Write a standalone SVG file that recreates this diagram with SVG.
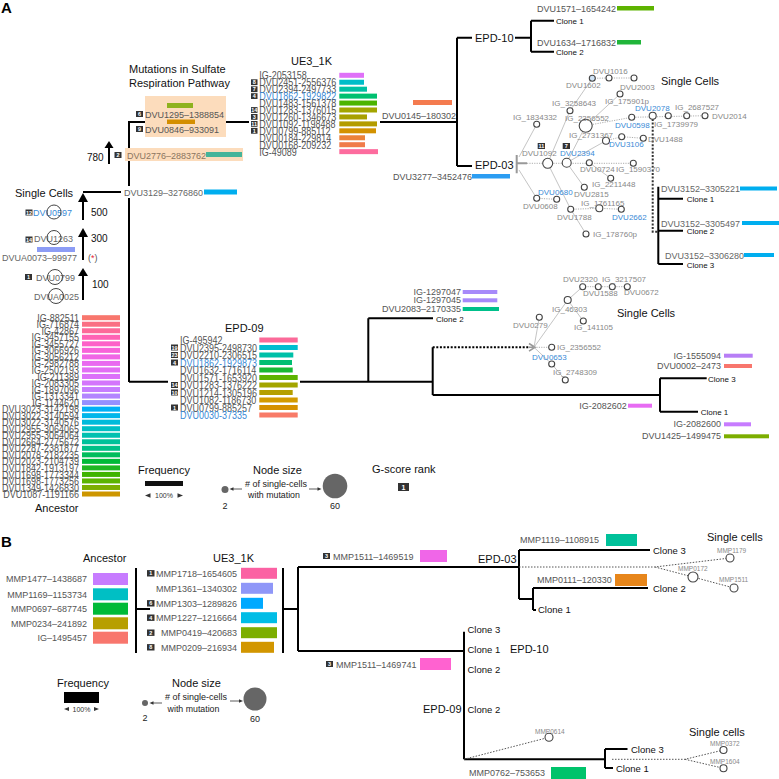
<svg xmlns="http://www.w3.org/2000/svg" width="779" height="779" viewBox="0 0 779 779">
<style>
text{font-family:"Liberation Sans",Arial,sans-serif}
.g{fill:#555;font-size:9px}
.gl{fill:#666;font-size:9px}
.n{fill:#888;font-size:8px}
.nb{fill:#3a8ad6;font-size:8px}
.b{fill:#3a8ad6}
.rk{fill:#333}
.rt{fill:#fff;font-size:5.5px;font-weight:bold;text-anchor:middle}
.t11{font-size:11px;fill:#111}
.t12{font-size:11px;fill:#111}
.c8{font-size:8px;fill:#111}
.c9{font-size:9.5px;fill:#111}
.ln{stroke:#000;stroke-width:2;fill:none}
.dt{stroke:#000;stroke-width:2;fill:none;stroke-dasharray:2 1.6}
.e{stroke:#aaa;stroke-width:0.7;fill:none}
.ed{stroke:#999;stroke-width:0.8;fill:none;stroke-dasharray:1.2 1.2}
.eb{stroke:#555;stroke-width:1;fill:none;stroke-dasharray:1.5 1.5}
.nd{fill:#fff;stroke:#444;stroke-width:1.1}
.sc{fill:none;stroke:#444;stroke-width:1}
.end{text-anchor:end}
.mid{text-anchor:middle}
.mm{fill:#888;font-size:6.5px}
.pk{fill:#fcdcbc}
</style>

<!-- ================= CONNECTORS ================= -->
<g id="connectors">
  <path class="ln" d="M83,192 H129 M129,121 V382 M129,122 H145 M226,122 H249 M380,122 H457 M457,37.7 V166 M457,37.7 H472 M457,166 H472"/>
  <path class="ln" d="M515,37.7 H531 M531,20.7 V51.7 M531,20.7 H554 M531,51.7 H554"/>
  <path class="ln" d="M83,300 V275 M83,260 V236 M83,220 V201 M109,164 V147"/>
  <polygon points="78,276 83,268 88,276" fill="#000"/>
  <polygon points="78,237 83,228 88,237" fill="#000"/>
  <polygon points="78,202 83,193 88,202" fill="#000"/>
  <polygon points="104.5,148 109,141 113.5,148" fill="#000"/>
  <path d="M652.7,119 V231.7 H658" stroke="#333" stroke-width="2" fill="none" stroke-dasharray="2 1.6"/>
  <path class="ln" d="M658.3,186.7 V264 M658.3,198.7 H683 M658.3,230.7 H683 M658.3,264 H683"/>
  <path class="ln" d="M129,381.7 H168 M300,381.7 H432.7 M368.3,318.3 V381.7 M368.3,318.3 H433 M432.7,347.3 V395 M432.7,395 H660 M660,378.3 V411.7 M660,378.3 H706.7 M660,411.7 H698"/>
  <path class="dt" d="M432.7,347.3 H530"/>
  <path d="M516.7,155 V173.3 M516.7,163.3 H527" stroke="#999" stroke-width="2" fill="none"/>
  <path class="e" d="M519,157 L536.7,124.3 M547.7,163.3 L570,110.7 L592.3,78.3 M566.7,162.7 L585.7,125.7 L620,94 M566.7,162.7 L606,140.7 M566.7,162.7 L584.3,187.3 M589.3,162.7 L610.7,178.3 M519,170 L536.7,198.3 M547.7,163.3 L570.7,209.3 L586,234"/>
  <path class="ed" d="M527,163.3 H633.3 M585.7,125.7 L631.7,117.3 L705,115.7 M606,140.7 L621.7,136.7 L643.3,138.3 M536.7,198.3 L556.7,199.3 M570.7,209.3 L599.3,208.3 L621.3,209.3 M592.3,78.3 L609,78 L634,78"/>
  <path d="M529,343.5 L535,347.3 L529,351.1 M529,347.3 H535" stroke="#999" stroke-width="1.6" fill="none"/>
  <path class="e" d="M534,347.3 L539.3,317.3 M534,347.3 L567.7,300 L582.7,286.7 M567.7,300 L583.3,321 M534,347.3 L551.7,364 L565.3,380"/>
  <path class="ed" d="M534,347.3 H551.7 M582.7,286.7 H627.3"/>
  <path class="ln" d="M136,568 V653 M136,609 H150 M283,568 V653 M283,609 H298 M298,567 V651 M298,567 H518 M298,651 H464"/>
  <path class="ln" d="M519,550 V599 M519,550 H650 M519,599 H533 M533,588 V610 M533,588 H648 M533,610 H536"/>
  <path class="ln" d="M464,631.7 V759.3 M464,759.3 H605 M605,749 V768 M605,749 H627.5 M605,768 H613"/>
  <path class="eb" d="M519,567 H655 L730,558 M655,567 L693,577 L734,588"/>
  <path class="eb" d="M464,759.3 L549,737.3 M612,759.3 H685 L723.5,750 M685,759.3 L723.5,768.3"/>
</g>

<!-- ================= PANEL A ================= -->
<text x="1" y="13" font-size="15" font-weight="bold" fill="#000">A</text>

<g id="sulfate-box">
  <text class="t11" x="129" y="73">Mutations in Sulfate</text>
  <text class="t11" x="129" y="86.5">Respiration Pathway</text>
  <rect class="pk" x="145" y="96" width="81" height="41"/>
  <rect x="167" y="103" width="26" height="5" fill="#8fb21e"/>
  <rect class="rk" x="136" y="111" width="7" height="6"/><text class="rt" x="139.5" y="116">6</text>
  <text class="g" x="145" y="118">DVU1295–1388854</text>
  <rect x="167" y="119.5" width="28" height="4.5" fill="#d48e00"/>
  <rect class="rk" x="136" y="126" width="7" height="6"/><text class="rt" x="139.5" y="131">9</text>
  <text class="g" x="145" y="133">DVU0846–933091</text>
</g>

<g id="dvu2776">
  <rect class="pk" x="125" y="148" width="118" height="13"/>
  <rect class="rk" x="114.5" y="152" width="7" height="6"/><text class="rt" x="118" y="157">2</text>
  <text x="127" y="158.5" font-size="9" fill="#8b7560">DVU2776–2883762</text>
  <rect x="206" y="152" width="36" height="5" fill="#45b49a"/>
  <text x="87" y="161" font-size="10" fill="#111">780</text>
</g>

<g id="dvu3129">
  <rect x="121" y="186" width="83" height="12" fill="#fff"/>
  <text class="gl" x="124" y="196">DVU3129–3276860</text>
  <rect x="204" y="189.5" width="33" height="5" fill="#00aeef"/>
</g>

<g id="single-cells-left">
  <text class="t11" x="15" y="197">Single Cells</text>
  <text x="91" y="216" font-size="10" fill="#111">500</text>
  <text x="91" y="242" font-size="10" fill="#111">300</text>
  <text x="92" y="288" font-size="10" fill="#111">100</text>
  <rect class="rk" x="25.5" y="209.5" width="7" height="6"/><text class="rt" x="29" y="214.5">12</text>
  <text class="b" x="33" y="215.5" font-size="9">DVU0597</text>
  <circle class="sc" cx="54" cy="212" r="7"/>
  <rect class="rk" x="25.5" y="236.5" width="7" height="6"/><text class="rt" x="29" y="241.5">14</text>
  <text class="gl" x="34" y="242">DVU1263</text>
  <circle class="sc" cx="54" cy="237.5" r="7"/>
  <rect x="37" y="247" width="38" height="5" fill="#8c9cf5"/>
  <text class="gl" x="2" y="260.5">DVUA0073–99977</text>
  <text x="88" y="261" font-size="9" fill="#555">(<tspan fill="#e8233a">*</tspan>)</text>
  <rect class="rk" x="25" y="274" width="7" height="6"/><text class="rt" x="28.5" y="279">1</text>
  <text class="gl" x="36" y="280.5">DVU0799</text>
  <circle class="sc" cx="55" cy="277" r="7.5"/>
  <text class="gl" x="34" y="299.5">DVUA0025</text>
  <circle class="sc" cx="56" cy="296" r="7.5"/>
</g>

<g id="ancestor-A">
  <g class="g end" transform="scale(1,1.15)">
    <text x="79" y="279.83">IG-882511</text>
    <text x="79" y="285.51">IG-716874</text>
    <text x="79" y="291.19">IG-42867</text>
    <text x="79" y="296.86">IG-3457155</text>
    <text x="79" y="302.54">IG-3455727</text>
    <text x="79" y="308.22">IG-3066926</text>
    <text x="79" y="313.9">IG-3056212</text>
    <text x="79" y="319.57">IG-2982788</text>
    <text x="79" y="325.25">IG-2502193</text>
    <text x="79" y="330.93">IG-211389</text>
    <text x="79" y="336.61">IG-2083305</text>
    <text x="79" y="342.29">IG-1897096</text>
    <text x="79" y="347.96">IG-1313341</text>
    <text x="79" y="353.64">IG-1144620</text>
    <text x="79" y="359.32">DVU3023-3142198</text>
    <text x="79" y="365">DVU3022-3140594</text>
    <text x="79" y="370.68">DVU3022-3140576</text>
    <text x="79" y="376.35">DVU2955-3064065</text>
    <text x="79" y="382.03">DVU2955-3064064</text>
    <text x="79" y="387.71">DVU2664-2775672</text>
    <text x="79" y="393.39">DVU2287-2381877</text>
    <text x="79" y="399.07">DVU2078-2182235</text>
    <text x="79" y="404.74">DVU2023-2104739</text>
    <text x="79" y="410.42">DVU1842-1913197</text>
    <text x="79" y="416.1">DVU1698-1773344</text>
    <text x="79" y="421.78">DVU1698-1773256</text>
    <text x="79" y="427.46">DVU1349-1426830</text>
    <text x="79" y="433.13">DVU1087-1191166</text>
  </g>
  <g>
    <rect x="82" y="315.2" width="38" height="5" fill="#f8766d"/>
    <rect x="82" y="321.73" width="38" height="5" fill="#fa6f83"/>
    <rect x="82" y="328.26" width="38" height="5" fill="#fd6a99"/>
    <rect x="82" y="334.79" width="38" height="5" fill="#ff63b4"/>
    <rect x="82" y="341.32" width="38" height="5" fill="#fd61c8"/>
    <rect x="82" y="347.85" width="38" height="5" fill="#f863d9"/>
    <rect x="82" y="354.38" width="38" height="5" fill="#f066e6"/>
    <rect x="82" y="360.91" width="38" height="5" fill="#e96af0"/>
    <rect x="82" y="367.44" width="38" height="5" fill="#e26ef5"/>
    <rect x="82" y="373.97" width="38" height="5" fill="#dc71fa"/>
    <rect x="82" y="380.5" width="38" height="5" fill="#d475fc"/>
    <rect x="82" y="387.03" width="38" height="5" fill="#c77cff"/>
    <rect x="82" y="393.56" width="38" height="5" fill="#b384ff"/>
    <rect x="82" y="400.09" width="38" height="5" fill="#9590ff"/>
    <rect x="82" y="406.62" width="38" height="5" fill="#00b0f6"/>
    <rect x="82" y="413.15" width="38" height="5" fill="#00b6ea"/>
    <rect x="82" y="419.68" width="38" height="5" fill="#00bbdb"/>
    <rect x="82" y="426.21" width="38" height="5" fill="#00bfc4"/>
    <rect x="82" y="432.74" width="38" height="5" fill="#00c0b0"/>
    <rect x="82" y="439.27" width="38" height="5" fill="#00c19a"/>
    <rect x="82" y="445.8" width="38" height="5" fill="#00c087"/>
    <rect x="82" y="452.33" width="38" height="5" fill="#00bd5c"/>
    <rect x="82" y="458.86" width="38" height="5" fill="#00ba38"/>
    <rect x="82" y="465.39" width="38" height="5" fill="#1fb722"/>
    <rect x="82" y="471.92" width="38" height="5" fill="#3fb300"/>
    <rect x="82" y="478.45" width="38" height="5" fill="#5bb300"/>
    <rect x="82" y="484.98" width="38" height="5" fill="#7cae00"/>
    <rect x="82" y="491.51" width="38" height="5" fill="#cd9600"/>
  </g>
  <text class="t11" x="35" y="512">Ancestor</text>
</g>

<g id="ue3-1k-A">
  <text class="t11" x="291" y="65">UE3_1K</text>
  <g class="g" transform="scale(1,1.15)">
    <text x="259.3" y="69.04">IG-2053158</text>
    <text x="259.3" y="75.08">DVU2451-2556376</text>
    <text x="259.3" y="81.11">DVU2394-2497733</text>
    <text x="259.3" y="87.15" class="b">DVU1862-1929822</text>
    <text x="259.3" y="93.18">DVU1483-1561378</text>
    <text x="259.3" y="99.22">DVU1283-1376015</text>
    <text x="259.3" y="105.25">DVU1260-1346673</text>
    <text x="259.3" y="111.29">DVU1092-1198488</text>
    <text x="259.3" y="117.32">DVU0799-885112</text>
    <text x="259.3" y="123.36">DVU0184-229814</text>
    <text x="259.3" y="129.39">DVU0168-209232</text>
    <text x="259.3" y="135.43">IG-49089</text>
  </g>
  <rect class="rk" x="251" y="79.3" width="6.5" height="5.8"/><text class="rt" x="254.25" y="84.3">8</text>
  <rect class="rk" x="251" y="86.3" width="6.5" height="5.8"/><text class="rt" x="254.25" y="91.3">7</text>
  <rect class="rk" x="251" y="93.2" width="6.5" height="5.8"/><text class="rt" x="254.25" y="98.2">4</text>
  <rect class="rk" x="251" y="107.1" width="6.5" height="5.8"/><text class="rt" x="254.25" y="112.1">14</text>
  <rect class="rk" x="251" y="114" width="6.5" height="5.8"/><text class="rt" x="254.25" y="119">3</text>
  <rect class="rk" x="251" y="121" width="6.5" height="5.8"/><text class="rt" x="254.25" y="126">11</text>
  <rect class="rk" x="251" y="127.9" width="6.5" height="5.8"/><text class="rt" x="254.25" y="132.9">1</text>
  <rect x="339.3" y="72.8" width="24.7" height="5" fill="#df70f8"/>
  <rect x="339.3" y="79.74" width="24.7" height="5" fill="#00bdc9"/>
  <rect x="339.3" y="86.68" width="27.7" height="5" fill="#00c1a3"/>
  <rect x="339.3" y="93.62" width="37.7" height="5" fill="#00c070"/>
  <rect x="339.3" y="100.56" width="37.7" height="5" fill="#4cb400"/>
  <rect x="339.3" y="107.5" width="37.7" height="5" fill="#a3a500"/>
  <rect x="339.3" y="114.44" width="27.7" height="5" fill="#a8a000"/>
  <rect x="339.3" y="121.38" width="37.7" height="5" fill="#b49c00"/>
  <rect x="339.3" y="128.32" width="36.7" height="5" fill="#d39200"/>
  <rect x="339.3" y="135.26" width="25.7" height="5" fill="#ec8239"/>
  <rect x="339.3" y="142.2" width="25.7" height="5" fill="#f07c4a"/>
  <rect x="339.3" y="149.14" width="38.7" height="5" fill="#fd6c9e"/>
</g>

<g id="dvu0145">
  <rect x="413" y="100" width="39" height="5" fill="#f47b4f"/>
  <text class="g" x="382" y="119">DVU0145–180302</text>
</g>

<g id="epd10-A">
  <text class="t12" x="475" y="42">EPD-10</text>
  <text class="g" x="537" y="11.5">DVU1571–1654242</text>
  <rect x="617" y="6" width="37" height="4.5" fill="#5db300"/>
  <text class="c8" x="556" y="23.7">Clone 1</text>
  <text class="g" x="537" y="45.5">DVU1634–1716832</text>
  <rect x="617" y="40" width="24" height="4.5" fill="#20b53a"/>
  <text class="c8" x="556" y="54.7">Clone 2</text>
</g>

<g id="epd03-A">
  <text class="t12" x="475" y="169">EPD-03</text>
  <text class="g" x="393" y="179.5">DVU3277–3452476</text>
  <rect x="472" y="174" width="38" height="4.5" fill="#2b9df2"/>
  <text class="t11" x="661" y="85">Single Cells</text>
</g>

<g id="epd03-network">
  <g id="n-dvu1016"><circle class="nd" cx="609" cy="78" r="3"/><text class="n" x="593" y="73.5">DVU1016</text></g>
  <g id="n-dvu1602"><circle cx="592.3" cy="78.3" r="3" fill="#cfe3f5" stroke="#444" stroke-width="1.1"/><text class="n" x="566" y="88">DVU1602</text></g>
  <g id="n-dvu2003"><circle class="nd" cx="634" cy="78" r="3"/><text class="n" x="620" y="89.5">DVU2003</text></g>
  <g id="n-ig3258643"><circle class="nd" cx="570" cy="110.7" r="3"/><text class="n" x="552" y="106">IG_3258643</text></g>
  <g id="n-ig175901p"><circle class="nd" cx="620" cy="94" r="3"/><text class="n" x="605" y="103.5">IG_175901p</text></g>
  <g id="n-ig1834332"><circle class="nd" cx="536.7" cy="124.3" r="3"/><text class="n" x="513" y="120">IG_1834332</text></g>
  <g id="n-ig2356552"><circle class="nd" cx="585.7" cy="125.7" r="6.5"/><text class="n" x="565" y="121">IG_2356552</text></g>
  <g id="n-dvu0598"><circle class="nd" cx="631.7" cy="117.3" r="3"/><text class="nb" x="615" y="127.5">DVU0598</text></g>
  <g id="n-dvu2078"><circle class="nd" cx="652.7" cy="115.7" r="3.5"/><text class="nb" x="635" y="110.5">DVU2078</text></g>
  <g id="n-ig1739979"><circle class="nd" cx="668.3" cy="115.7" r="3"/><text class="n" x="654" y="127">IG_1739979</text></g>
  <g id="n-ig2687527"><circle class="nd" cx="686.7" cy="115.7" r="3"/><text class="n" x="675" y="110">IG_2687527</text></g>
  <g id="n-dvu2014"><circle class="nd" cx="705" cy="115.7" r="3"/><text class="n" x="712" y="119">DVU2014</text></g>
  <g id="n-ig2731367"><circle class="nd" cx="606" cy="140.7" r="3.5"/><text class="n" x="569" y="138">IG_2731367</text></g>
  <g id="n-dvu3106"><circle class="nd" cx="621.7" cy="136.7" r="3"/><text class="nb" x="609" y="147">DVU3106</text></g>
  <g id="n-dvu1488"><circle class="nd" cx="643.3" cy="138.3" r="3"/><text class="n" x="648" y="142">DVU1488</text></g>
  <g id="n-dvu1092"><circle class="nd" cx="547.7" cy="163.3" r="5"/><text class="n" x="522" y="156">DVU1092</text>
    <rect class="rk" x="537.7" y="143" width="7.3" height="6"/><text class="rt" x="541.35" y="148">11</text></g>
  <g id="n-dvu2394"><circle class="nd" cx="566.7" cy="162.7" r="4.5"/><text class="nb" x="560" y="155.5">DVU2394</text>
    <rect class="rk" x="562.7" y="143" width="7.3" height="6"/><text class="rt" x="566.35" y="148">7</text></g>
  <g id="n-dvu0724"><circle class="nd" cx="589.3" cy="162.7" r="3"/><text class="n" x="580" y="172">DVU0724</text></g>
  <g id="n-ig1590370"><circle class="nd" cx="633.3" cy="163.3" r="3"/><text class="n" x="616" y="172">IG_1590370</text></g>
  <g id="n-ig2211448"><circle class="nd" cx="610.7" cy="178.3" r="3"/><text class="n" x="592" y="187">IG_2211448</text></g>
  <g id="n-dvu2815"><circle class="nd" cx="584.3" cy="187.3" r="3"/><text class="n" x="574" y="197">DVU2815</text></g>
  <g id="n-dvu0608"><circle class="nd" cx="536.7" cy="198.3" r="3"/><text class="n" x="523" y="209">DVU0608</text></g>
  <g id="n-dvu0680"><circle class="nd" cx="556.7" cy="199.3" r="3"/><text class="nb" x="538" y="195">DVU0680</text></g>
  <g id="n-dvu1788"><circle class="nd" cx="570.7" cy="209.3" r="3"/><text class="n" x="557" y="219.5">DVU1788</text></g>
  <g id="n-ig1761165"><circle class="nd" cx="599.3" cy="208.3" r="3.5"/><text class="n" x="581" y="205.5">IG_1761165</text></g>
  <g id="n-dvu2662"><circle class="nd" cx="621.3" cy="209.3" r="3"/><text class="nb" x="612" y="219.5">DVU2662</text></g>
  <g id="n-ig178760p"><circle class="nd" cx="586" cy="234" r="3"/><text class="n" x="593" y="237">IG_178760p</text></g>
</g>

<g id="epd03-clones-A">
  <text class="gl" x="661" y="192">DVU3152–3305221</text>
  <rect x="740" y="186.5" width="37" height="4" fill="#00aeef"/>
  <text class="c8" x="686.7" y="202">Clone 1</text>
  <text class="gl" x="661" y="227">DVU3152–3305497</text>
  <rect x="742" y="221" width="37" height="4" fill="#00aeef"/>
  <text class="c8" x="686.7" y="234">Clone 2</text>
  <text class="gl" x="665" y="259">DVU3152–3306280</text>
  <rect x="744" y="253" width="30" height="4" fill="#00aeef"/>
  <text class="c8" x="686.7" y="268">Clone 3</text>
</g>

<g id="epd09-A">
  <text class="t12" x="225" y="332">EPD-09</text>
  <g class="g" transform="scale(1,1.15)">
    <text x="180" y="299.22">IG-495942</text>
    <text x="180" y="305.74">DVU2395-2498730</text>
    <text x="180" y="312.26">DVU2210-2306515</text>
    <text x="180" y="318.78" class="b">DVU1862-1929873</text>
    <text x="180" y="325.3">DVU1632-1716114</text>
    <text x="180" y="331.83">DVU1571-1653920</text>
    <text x="180" y="338.35">DVU1283-1376222</text>
    <text x="180" y="344.87">DVU1214-1305196</text>
    <text x="180" y="351.39">DVU1082-1186730</text>
    <text x="180" y="357.91">DVU0799-885257</text>
    <text x="180" y="364.43" class="b">DVU0030-37335</text>
  </g>
  <rect class="rk" x="171" y="344.5" width="7" height="6"/><text class="rt" x="174.5" y="349.5">19</text>
  <rect class="rk" x="171" y="352" width="7" height="6"/><text class="rt" x="174.5" y="357">23</text>
  <rect class="rk" x="171" y="359.5" width="7" height="6"/><text class="rt" x="174.5" y="364.5">4</text>
  <rect class="rk" x="171" y="382" width="7" height="6"/><text class="rt" x="174.5" y="387">14</text>
  <rect class="rk" x="171" y="389.5" width="7" height="6"/><text class="rt" x="174.5" y="394.5">10</text>
  <rect class="rk" x="171" y="404.5" width="7" height="6"/><text class="rt" x="174.5" y="409.5">1</text>
  <rect x="259.3" y="337.5" width="38.4" height="5" fill="#fb6a99"/>
  <rect x="259.3" y="345" width="38.4" height="5" fill="#00bdd0"/>
  <rect x="259.3" y="352.5" width="34" height="5" fill="#00c0a8"/>
  <rect x="259.3" y="360" width="32.7" height="5" fill="#00bf72"/>
  <rect x="259.3" y="367.5" width="33.4" height="5" fill="#18b833"/>
  <rect x="259.3" y="375" width="38.4" height="5" fill="#5db300"/>
  <rect x="259.3" y="382.5" width="38.4" height="5" fill="#a3a500"/>
  <rect x="259.3" y="390" width="33.4" height="5" fill="#b59f00"/>
  <rect x="259.3" y="397.5" width="38.4" height="5" fill="#d39a00"/>
  <rect x="259.3" y="405" width="38.4" height="5" fill="#d59100"/>
  <rect x="259.3" y="412.5" width="38.4" height="5" fill="#f87b68"/>
</g>

<g id="epd09-clones-A">
  <text class="g end" x="461" y="294.7">IG-1297047</text>
  <rect x="462.7" y="290" width="34.6" height="4" fill="#a78afa"/>
  <text class="g end" x="461" y="303">IG-1297045</text>
  <rect x="462.7" y="298.3" width="34.6" height="4" fill="#a78afa"/>
  <text class="g end" x="461" y="312">DVU2083–2170335</text>
  <rect x="462.7" y="307" width="36.3" height="4" fill="#00c08b"/>
  <text class="c8" x="436" y="322">Clone 2</text>
  <text class="g end" x="721" y="358.7">IG-1555094</text>
  <rect x="724" y="353.7" width="28.7" height="4" fill="#b77ef6"/>
  <text class="g end" x="721" y="369">DVU0002–2473</text>
  <rect x="724" y="364" width="28" height="4" fill="#f8766d"/>
  <text class="c8" x="708" y="381.5">Clone 3</text>
  <text class="g end" x="626.7" y="408.7">IG-2082602</text>
  <rect x="628" y="403.7" width="24" height="4" fill="#e76bf3"/>
  <text class="c8" x="700.7" y="415">Clone 1</text>
  <text class="g end" x="721" y="427">IG-2082600</text>
  <rect x="724" y="422.3" width="27" height="4" fill="#c77cff"/>
  <text class="g end" x="721" y="439">DVU1425–1499475</text>
  <rect x="724" y="434.3" width="45" height="4" fill="#7cae00"/>
</g>

<g id="epd09-network">
  <text class="t11" x="617" y="317">Single Cells</text>
  <g id="m-dvu0653"><text class="nb" x="532" y="360">DVU0653</text></g>
  <g id="m-ig2356552"><circle class="nd" cx="551.7" cy="347.3" r="3"/><text class="n" x="557" y="350">IG_2356552</text></g>
  <g id="m-ig2748309"><circle class="nd" cx="551.7" cy="364" r="3"/><circle class="nd" cx="565.3" cy="380" r="3"/><text class="n" x="553" y="375">IG_2748309</text></g>
  <g id="m-dvu0279"><circle class="nd" cx="539.3" cy="317.3" r="3"/><text class="n" x="513" y="327.7">DVU0279</text></g>
  <g id="m-ig46303"><circle class="nd" cx="567.7" cy="300" r="3.5"/><text class="n" x="552" y="312">IG_46303</text></g>
  <g id="m-ig141105"><circle class="nd" cx="583.3" cy="321" r="3"/><text class="n" x="574" y="330">IG_141105</text></g>
  <g id="m-dvu2320"><circle class="nd" cx="582.7" cy="286.7" r="3"/><text class="n" x="563" y="281.7">DVU2320</text></g>
  <g id="m-ig3217507"><circle class="nd" cx="598.3" cy="286.7" r="3"/><text class="n" x="602" y="281.7">IG_3217507</text></g>
  <g id="m-dvu1588"><circle class="nd" cx="612.3" cy="286.7" r="3"/><text class="n" x="583" y="296">DVU1588</text></g>
  <g id="m-dvu0672"><circle class="nd" cx="627.3" cy="286.7" r="3"/><text class="n" x="624" y="295.4">DVU0672</text></g>
</g>

<g id="legend-A">
  <text class="t11" x="138" y="474">Frequency</text>
  <rect x="145" y="481" width="38" height="5" fill="#111"/>
  <polygon points="145,495.5 150.5,493.3 150.5,497.7" fill="#333"/>
  <polygon points="183,495.5 177.5,493.3 177.5,497.7" fill="#333"/>
  <text x="164" y="498" font-size="7" fill="#333" class="mid">100%</text>
  <text class="t11" x="253" y="474">Node size</text>
  <circle cx="225" cy="489.5" r="3.5" fill="#666"/>
  <path d="M242,489 H232" stroke="#333" stroke-width="0.8"/>
  <polygon points="229.5,489 233.5,487.2 233.5,490.8" fill="#333"/>
  <text x="276" y="487" font-size="9" fill="#222" class="mid"># of single-cells</text>
  <text x="274" y="498" font-size="8.8" fill="#222" class="mid">with mutation</text>
  <path d="M309,489 H318" stroke="#333" stroke-width="0.8"/>
  <polygon points="321.5,489 317.5,487.2 317.5,490.8" fill="#333"/>
  <circle cx="335" cy="486" r="12.3" fill="#666"/>
  <text x="225" y="509" font-size="9" fill="#222" class="mid">2</text>
  <text x="335" y="509" font-size="9" fill="#222" class="mid">60</text>
  <text class="t11" x="372" y="473">G-score rank</text>
  <rect class="rk" x="398" y="483" width="11" height="8"/>
  <text x="403.5" y="489.8" font-size="7" font-weight="bold" fill="#fff" class="mid">1</text>
</g>

<!-- ================= PANEL B ================= -->
<text x="1" y="547" font-size="15" font-weight="bold" fill="#000">B</text>

<g id="ancestor-B">
  <text class="t11" x="83" y="562">Ancestor</text>
  <text class="g end" x="87" y="582.3">MMP1477–1438687</text>
  <rect x="93" y="573" width="35" height="12" fill="#c77cff"/>
  <text class="g end" x="87" y="597.6">MMP1169–1153734</text>
  <rect x="93" y="588.3" width="35" height="12" fill="#00bfc4"/>
  <text class="g end" x="87" y="612">MMP0697–687745</text>
  <rect x="93" y="602.7" width="35" height="12" fill="#00ba38"/>
  <text class="g end" x="87" y="626.6">MMP0234–241892</text>
  <rect x="93" y="617.3" width="35" height="12" fill="#b79f00"/>
  <text class="g end" x="87" y="641">IG–1495457</text>
  <rect x="93" y="631.7" width="35" height="12" fill="#f8766d"/>
</g>

<g id="ue3-1k-B">
  <text class="t11" x="213" y="562">UE3_1K</text>
  <rect class="rk" x="147" y="570.1" width="7.5" height="6.4"/><text class="rt" x="150.75" y="575.3">1</text>
  <text class="g end" x="237" y="576.6">MMP1718–1654605</text>
  <rect x="241" y="567.8" width="36" height="11" fill="#fb61a3"/>
  <text class="g end" x="237" y="591.6">MMP1361–1340302</text>
  <rect x="241" y="582.8" width="32" height="11" fill="#8f97f8"/>
  <rect class="rk" x="147" y="600.1" width="7.5" height="6.4"/><text class="rt" x="150.75" y="605.3">6</text>
  <text class="g end" x="237" y="606.6">MMP1303–1289826</text>
  <rect x="241" y="597.8" width="22" height="11" fill="#00a9ff"/>
  <rect class="rk" x="147" y="614.5" width="7.5" height="6.4"/><text class="rt" x="150.75" y="619.7">4</text>
  <text class="g end" x="237" y="621">MMP1227–1216664</text>
  <rect x="241" y="612.2" width="36" height="11" fill="#00bde6"/>
  <rect class="rk" x="147" y="629.5" width="7.5" height="6.4"/><text class="rt" x="150.75" y="634.7">2</text>
  <text class="g end" x="237" y="636">MMP0419–420683</text>
  <rect x="241" y="627.2" width="36" height="11" fill="#7cae00"/>
  <rect class="rk" x="147" y="644.1" width="7.5" height="6.4"/><text class="rt" x="150.75" y="649.3">8</text>
  <text class="g end" x="237" y="650.6">MMP0209–216934</text>
  <rect x="241" y="641.8" width="33" height="11" fill="#d29600"/>
</g>

<g id="epd03-B">
  <rect class="rk" x="323" y="553" width="7" height="6"/><text class="rt" x="326.5" y="558">3</text>
  <text class="g" x="333" y="559.5">MMP1511–1469519</text>
  <rect x="420" y="550" width="27" height="12" fill="#f066e8"/>
  <text class="t12" x="478" y="563">EPD-03</text>
  <text class="g" x="520" y="543">MMP1119–1108915</text>
  <rect x="606" y="534" width="31" height="12" fill="#00c19a"/>
  <text class="c9" x="653" y="553.5">Clone 3</text>
  <text class="g" x="537" y="582.5">MMP0111–120330</text>
  <rect x="615" y="574" width="32" height="12" fill="#e7861b"/>
  <text class="c9" x="653" y="592">Clone 2</text>
  <text class="c9" x="538" y="613">Clone 1</text>
  <text class="t11" x="707" y="541">Single cells</text>
  <g id="b-mmp1179"><circle class="nd" cx="730" cy="558" r="4"/><text class="mm" x="717" y="553">MMP1179</text></g>
  <g id="b-mmp0172"><circle class="nd" cx="693" cy="577" r="5"/><text class="mm" x="678" y="571">MMP0172</text></g>
  <g id="b-mmp1511"><circle class="nd" cx="734" cy="588" r="4"/><text class="mm" x="719" y="582">MMP1511</text></g>
</g>

<g id="epd10-09-B">
  <rect class="rk" x="326" y="661" width="7" height="6"/><text class="rt" x="329.5" y="666">3</text>
  <text class="g" x="336" y="667.5">MMP1511–1469741</text>
  <rect x="420" y="658" width="31" height="12" fill="#ff62d0"/>
  <text class="c9" x="467.5" y="632.5">Clone 3</text>
  <text class="c9" x="467.5" y="652.5">Clone 1</text>
  <text class="t12" x="510" y="653">EPD-10</text>
  <text class="c9" x="467.5" y="672.5">Clone 2</text>
  <text class="t12" x="423" y="713">EPD-09</text>
  <text class="c9" x="467.5" y="713">Clone 2</text>
  <text class="c9" x="631" y="752.5">Clone 3</text>
  <text class="c9" x="616" y="771.5">Clone 1</text>
  <text class="g" x="469" y="776">MMP0762–753653</text>
  <rect x="551" y="767" width="35" height="12" fill="#00c36b"/>
  <text class="t11" x="689" y="736">Single cells</text>
  <g id="b-mmp0614"><circle class="nd" cx="549" cy="737.3" r="4"/><text class="mm" x="535" y="733.5">MMP0614</text></g>
  <g id="b-mmp0372"><circle class="nd" cx="723.5" cy="750" r="3.5"/><text class="mm" x="710" y="746">MMP0372</text></g>
  <g id="b-mmp1604"><circle class="nd" cx="723.5" cy="768.3" r="3.5"/><text class="mm" x="710" y="764">MMP1604</text></g>
</g>

<g id="legend-B">
  <text class="t11" x="57" y="687">Frequency</text>
  <rect x="64" y="692" width="35" height="11" fill="#000"/>
  <polygon points="64,709 69,707 69,711" fill="#333"/>
  <polygon points="99,709 94,707 94,711" fill="#333"/>
  <text x="81.5" y="711.5" font-size="7" fill="#333" class="mid">100%</text>
  <text class="t11" x="172" y="687">Node size</text>
  <circle cx="145" cy="703" r="3" fill="#666"/>
  <path d="M162,703 H152" stroke="#333" stroke-width="0.8"/>
  <polygon points="149.5,703 153.5,701.2 153.5,704.8" fill="#333"/>
  <text x="196" y="700" font-size="9" fill="#222" class="mid"># of single-cells</text>
  <text x="193.5" y="712" font-size="8.8" fill="#222" class="mid">with mutation</text>
  <path d="M230,701 H240" stroke="#333" stroke-width="0.8"/>
  <polygon points="243,701 239,699.2 239,702.8" fill="#333"/>
  <circle cx="255" cy="699" r="11.5" fill="#666"/>
  <text x="145" y="721" font-size="9" fill="#222" class="mid">2</text>
  <text x="255" y="722" font-size="9" fill="#222" class="mid">60</text>
</g>
</svg>
